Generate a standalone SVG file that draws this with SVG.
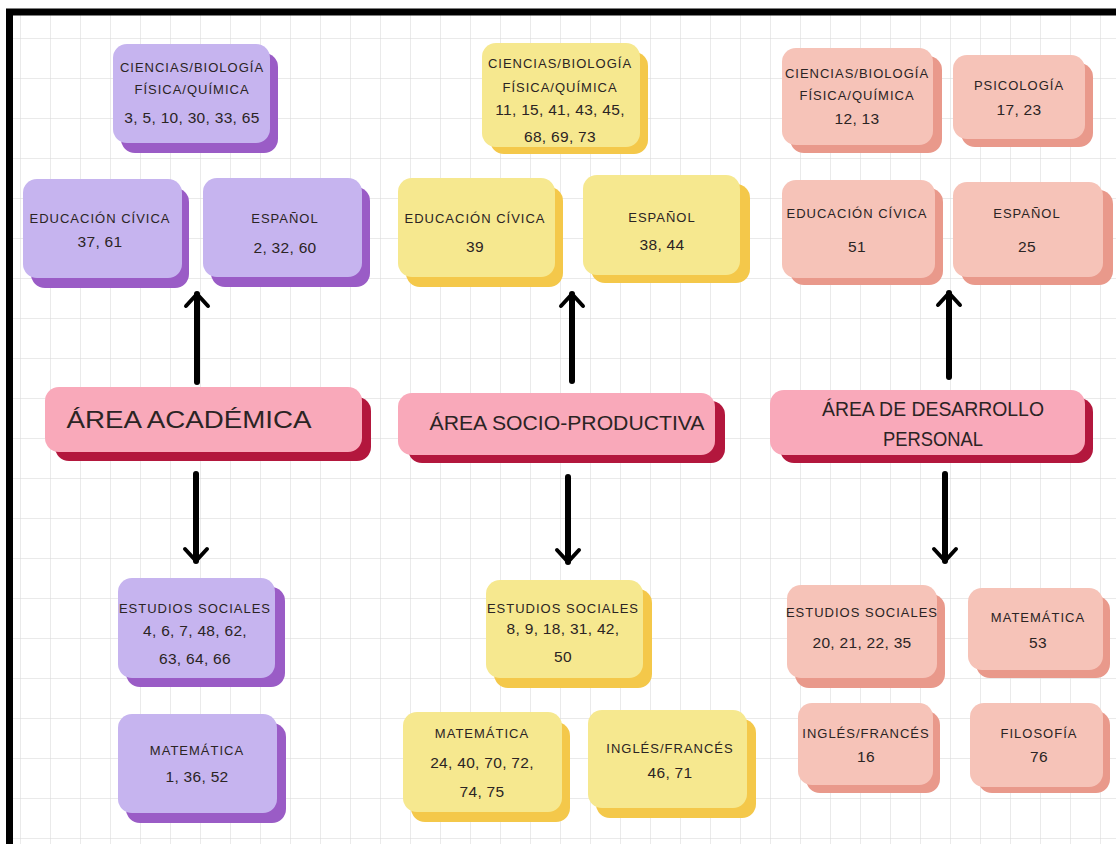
<svg xmlns="http://www.w3.org/2000/svg" width="1116" height="844" viewBox="0 0 1116 844">
<defs>
<pattern id="grid" x="20" y="38" width="30" height="40" patternUnits="userSpaceOnUse">
<path d="M0 0 V40 M0 0 H30" fill="none" stroke="#d6d6d6" stroke-width="1"/>
</pattern>
<marker id="head" viewBox="-16 -14 20 28" refX="0" refY="0" markerWidth="20" markerHeight="28" markerUnits="userSpaceOnUse" orient="auto">
<path d="M-12,-11 L0,0 L-12,11" fill="none" stroke="#000" stroke-width="4" stroke-linecap="round" stroke-linejoin="round"/>
</marker>
<style>
text{font-family:"Liberation Sans",Arial,sans-serif;fill:#2b2424;text-anchor:middle}
.l{font-size:13px;letter-spacing:1px}
.n{font-size:15.5px;letter-spacing:0.3px}
.a{font-size:21px}
.a2{font-size:23px}
.sh.p{fill:#9a5cc6}.bx.p{fill:#c6b4ef}
.sh.y{fill:#f4c84a}.bx.y{fill:#f6e88f}
.sh.s{fill:#e9998b}.bx.s{fill:#f6c3b8}
.sh.k{fill:#b3173d}.bx.k{fill:#f9a9ba}
.arr{stroke:#000;stroke-width:6;stroke-linecap:round;fill:none;marker-end:url(#head)}
</style>
</defs>
<rect x="0" y="0" width="1116" height="844" fill="#ffffff"/>
<rect x="9" y="12" width="1107" height="832" fill="url(#grid)"/>
<path d="M9.5 844 V12 H1116" fill="none" stroke="#000" stroke-width="7"/>

<g id="connectors">
<line class="arr" x1="197" y1="382" x2="197" y2="294"/>
<line class="arr" x1="572" y1="381" x2="572" y2="294"/>
<line class="arr" x1="949" y1="377" x2="949" y2="293"/>
<line class="arr" x1="196" y1="474" x2="196" y2="561"/>
<line class="arr" x1="568" y1="477" x2="568" y2="562"/>
<line class="arr" x1="945" y1="474" x2="945" y2="561"/>
</g>

<!-- Column 1 -->
<g id="a-ciencias">
<rect class="sh p" x="121" y="53" width="157" height="100" rx="14"/>
<rect class="bx p" x="113" y="44" width="157" height="99" rx="14"/>
<text class="l" x="192" y="72">CIENCIAS/BIOLOGÍA</text>
<text class="l" x="192" y="94">FÍSICA/QUÍMICA</text>
<text class="n" x="192" y="123">3, 5, 10, 30, 33, 65</text>
</g>
<g id="a-civica">
<rect class="sh p" x="31" y="188" width="158" height="100" rx="14"/>
<rect class="bx p" x="23" y="179" width="159" height="99" rx="14"/>
<text class="l" x="100" y="223">EDUCACIÓN CÍVICA</text>
<text class="n" x="100" y="247">37, 61</text>
</g>
<g id="a-espanol">
<rect class="sh p" x="211" y="187" width="159" height="100" rx="14"/>
<rect class="bx p" x="203" y="178" width="159" height="99" rx="14"/>
<text class="l" x="285" y="223">ESPAÑOL</text>
<text class="n" x="285" y="253">2, 32, 60</text>
</g>
<g id="area-academica">
<rect class="sh k" x="55" y="397" width="316" height="64" rx="14"/>
<rect class="bx k" x="45" y="387" width="317" height="65" rx="14"/>
<text class="a2" x="189" y="428" textLength="245" lengthAdjust="spacingAndGlyphs">ÁREA ACADÉMICA</text>
</g>
<g id="a-sociales">
<rect class="sh p" x="126" y="587" width="159" height="100" rx="14"/>
<rect class="bx p" x="118" y="578" width="157" height="100" rx="14"/>
<text class="l" x="195" y="613">ESTUDIOS SOCIALES</text>
<text class="n" x="195" y="636">4, 6, 7, 48, 62,</text>
<text class="n" x="195" y="664">63, 64, 66</text>
</g>
<g id="a-matematica">
<rect class="sh p" x="126" y="723" width="160" height="100" rx="14"/>
<rect class="bx p" x="118" y="714" width="159" height="99" rx="14"/>
<text class="l" x="197" y="755">MATEMÁTICA</text>
<text class="n" x="197" y="782">1, 36, 52</text>
</g>

<!-- Column 2 -->
<g id="b-ciencias">
<rect class="sh y" x="490" y="52" width="158" height="102" rx="14"/>
<rect class="bx y" x="482" y="43" width="158" height="104" rx="14"/>
<text class="l" x="560" y="68">CIENCIAS/BIOLOGÍA</text>
<text class="l" x="560" y="92">FÍSICA/QUÍMICA</text>
<text class="n" x="560" y="115">11, 15, 41, 43, 45,</text>
<text class="n" x="560" y="142">68, 69, 73</text>
</g>
<g id="b-civica">
<rect class="sh y" x="406" y="187" width="157" height="100" rx="14"/>
<rect class="bx y" x="398" y="178" width="157" height="99" rx="14"/>
<text class="l" x="475" y="223">EDUCACIÓN CÍVICA</text>
<text class="n" x="475" y="252">39</text>
</g>
<g id="b-espanol">
<rect class="sh y" x="591" y="184" width="159" height="99" rx="14"/>
<rect class="bx y" x="583" y="175" width="157" height="100" rx="14"/>
<text class="l" x="662" y="222">ESPAÑOL</text>
<text class="n" x="662" y="250">38, 44</text>
</g>
<g id="area-socio">
<rect class="sh k" x="408" y="401" width="317" height="62" rx="14"/>
<rect class="bx k" x="398" y="393" width="317" height="62" rx="14"/>
<text class="a" x="567" y="430" textLength="275" lengthAdjust="spacingAndGlyphs">ÁREA SOCIO-PRODUCTIVA</text>
</g>
<g id="b-sociales">
<rect class="sh y" x="494" y="589" width="158" height="99" rx="14"/>
<rect class="bx y" x="486" y="580" width="157" height="98" rx="14"/>
<text class="l" x="563" y="613">ESTUDIOS SOCIALES</text>
<text class="n" x="563" y="634">8, 9, 18, 31, 42,</text>
<text class="n" x="563" y="662">50</text>
</g>
<g id="b-matematica">
<rect class="sh y" x="411" y="722" width="159" height="100" rx="14"/>
<rect class="bx y" x="403" y="712" width="159" height="100" rx="14"/>
<text class="l" x="482" y="738">MATEMÁTICA</text>
<text class="n" x="482" y="768">24, 40, 70, 72,</text>
<text class="n" x="482" y="797">74, 75</text>
</g>
<g id="b-ingles">
<rect class="sh y" x="596" y="719" width="160" height="99" rx="14"/>
<rect class="bx y" x="588" y="710" width="159" height="98" rx="14"/>
<text class="l" x="670" y="753">INGLÉS/FRANCÉS</text>
<text class="n" x="670" y="778">46, 71</text>
</g>

<!-- Column 3 -->
<g id="c-ciencias">
<rect class="sh s" x="790" y="56" width="152" height="97" rx="14"/>
<rect class="bx s" x="782" y="48" width="151" height="97" rx="14"/>
<text class="l" x="857" y="78">CIENCIAS/BIOLOGÍA</text>
<text class="l" x="857" y="100">FÍSICA/QUÍMICA</text>
<text class="n" x="857" y="124">12, 13</text>
</g>
<g id="c-psicologia">
<rect class="sh s" x="961" y="63" width="132" height="84" rx="14"/>
<rect class="bx s" x="953" y="55" width="132" height="84" rx="14"/>
<text class="l" x="1019" y="90">PSICOLOGÍA</text>
<text class="n" x="1019" y="115">17, 23</text>
</g>
<g id="c-civica">
<rect class="sh s" x="790" y="188" width="153" height="97" rx="14"/>
<rect class="bx s" x="782" y="180" width="153" height="98" rx="14"/>
<text class="l" x="857" y="218">EDUCACIÓN CÍVICA</text>
<text class="n" x="857" y="252">51</text>
</g>
<g id="c-espanol">
<rect class="sh s" x="961" y="190" width="152" height="95" rx="14"/>
<rect class="bx s" x="953" y="182" width="150" height="95" rx="14"/>
<text class="l" x="1027" y="218">ESPAÑOL</text>
<text class="n" x="1027" y="252">25</text>
</g>
<g id="area-personal">
<rect class="sh k" x="780" y="398" width="313" height="65" rx="14"/>
<rect class="bx k" x="770" y="390" width="315" height="65" rx="14"/>
<text class="a" x="933" y="416" textLength="222" lengthAdjust="spacingAndGlyphs">ÁREA DE DESARROLLO</text>
<text class="a" x="933" y="446" textLength="100" lengthAdjust="spacingAndGlyphs">PERSONAL</text>
</g>
<g id="c-sociales">
<rect class="sh s" x="795" y="594" width="150" height="94" rx="14"/>
<rect class="bx s" x="787" y="585" width="150" height="93" rx="14"/>
<text class="l" x="862" y="617">ESTUDIOS SOCIALES</text>
<text class="n" x="862" y="648">20, 21, 22, 35</text>
</g>
<g id="c-matematica">
<rect class="sh s" x="976" y="596" width="134" height="82" rx="14"/>
<rect class="bx s" x="968" y="588" width="135" height="82" rx="14"/>
<text class="l" x="1038" y="622">MATEMÁTICA</text>
<text class="n" x="1038" y="648">53</text>
</g>
<g id="c-ingles">
<rect class="sh s" x="806" y="711" width="134" height="82" rx="14"/>
<rect class="bx s" x="798" y="703" width="135" height="82" rx="14"/>
<text class="l" x="866" y="738">INGLÉS/FRANCÉS</text>
<text class="n" x="866" y="762">16</text>
</g>
<g id="c-filosofia">
<rect class="sh s" x="978" y="711" width="132" height="82" rx="14"/>
<rect class="bx s" x="970" y="703" width="133" height="84" rx="14"/>
<text class="l" x="1039" y="738">FILOSOFÍA</text>
<text class="n" x="1039" y="762">76</text>
</g>
</svg>
